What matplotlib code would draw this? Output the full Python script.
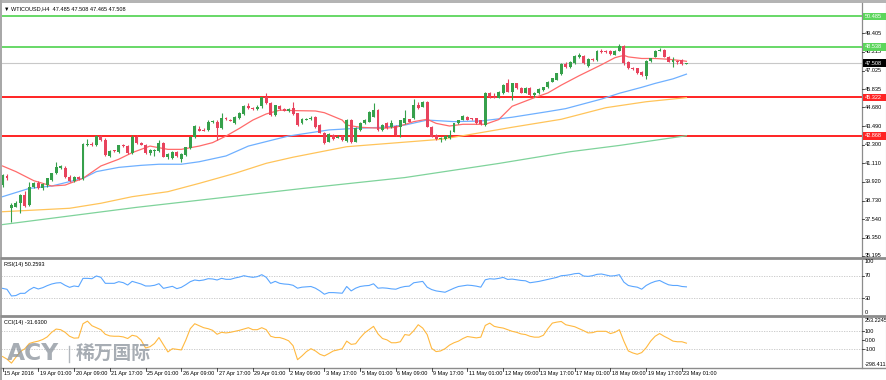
import matplotlib
matplotlib.use("Agg")
import matplotlib.pyplot as plt
from matplotlib.transforms import blended_transform_factory, offset_copy
from matplotlib.patches import Rectangle
import numpy as np

# ---------------- data ----------------
title = "WTICOUSD,H4  47.485 47.508 47.465 47.508"

opens = [39.70, 40.30, 38.24, 38.34, 38.60, 39.10, 38.45, 39.62, 39.87, 39.51,
         39.70, 40.05, 40.47, 40.85, 40.80, 40.26, 39.96, 40.24, 40.12, 42.30,
         42.36, 42.28, 42.85, 42.60, 41.55, 41.96, 41.80, 42.28, 42.22, 41.75,
         42.81, 42.43, 42.28, 41.79, 41.88, 41.90, 42.43, 41.49, 41.43, 41.85,
         41.37, 41.64, 42.07, 42.77, 43.28, 43.26, 43.24, 43.77, 43.77, 43.34,
         44.00, 43.90, 43.70, 43.98, 44.26, 44.77, 44.62, 44.56, 44.77, 45.32,
         44.94, 44.19, 44.77, 44.60, 44.47, 44.62, 44.30, 43.66, 43.90, 43.95,
         44.05, 43.55, 43.07, 42.49, 42.92, 42.75, 42.85, 42.56, 43.87, 42.49,
         43.24, 43.70, 43.77, 44.09, 44.51, 43.24, 43.70, 43.41, 43.49, 43.41,
         43.66, 43.92, 44.00, 44.83, 44.72, 45.04, 43.45, 42.92, 42.68, 42.64,
         42.70, 43.13, 43.66, 43.87, 44.05, 43.98, 43.98, 43.87, 43.55, 45.57,
         45.36, 45.30, 45.57, 46.21, 45.68, 46.21, 45.90, 45.62, 45.90, 45.50,
         45.57, 45.80, 45.96, 46.32, 46.43, 46.80, 47.45, 47.28, 47.50, 47.91,
         47.96, 47.30, 47.75, 47.70, 48.30, 48.25, 48.30, 48.05, 48.30, 48.60,
         47.60, 47.21, 47.17, 46.96, 46.70, 47.65, 47.91, 48.30, 48.34, 47.91,
         47.62, 47.66, 47.70, 47.485]
highs = [40.45, 40.40, 38.55, 38.70, 39.15, 39.35, 39.94, 39.90, 39.95, 39.85,
         40.20, 40.50, 41.21, 41.00, 40.95, 40.35, 40.30, 40.30, 42.40, 42.64,
         42.45, 42.90, 42.92, 42.70, 41.95, 41.98, 42.30, 42.35, 42.30, 42.90,
         42.92, 42.50, 42.35, 42.00, 42.05, 42.60, 42.45, 41.75, 41.90, 41.90,
         41.75, 42.15, 42.85, 43.55, 43.50, 43.35, 43.85, 43.88, 43.85, 44.34,
         44.05, 43.95, 44.10, 44.40, 44.80, 44.94, 44.70, 44.80, 45.35, 45.58,
         45.00, 44.85, 44.85, 44.65, 44.62, 45.04, 44.35, 43.98, 44.00, 44.10,
         44.12, 43.60, 43.12, 43.02, 42.98, 42.90, 42.90, 43.92, 43.95, 43.40,
         43.75, 43.92, 44.45, 44.94, 44.55, 43.60, 43.75, 43.87, 43.55, 43.90,
         44.51, 43.95, 45.19, 45.04, 45.08, 45.10, 43.50, 42.95, 42.80, 42.90,
         43.24, 43.70, 43.90, 44.19, 44.10, 44.02, 44.00, 43.90, 45.65, 45.68,
         45.57, 45.72, 46.15, 46.47, 46.25, 46.26, 45.95, 45.95, 45.95, 45.66,
         45.90, 46.00, 46.36, 46.58, 46.90, 47.52, 47.55, 47.65, 48.00, 48.13,
         48.05, 47.80, 47.80, 48.35, 48.38, 48.32, 48.36, 48.35, 48.72, 48.66,
         47.66, 47.26, 47.22, 47.00, 47.70, 47.86, 48.35, 48.45, 48.38, 47.95,
         47.91, 47.72, 47.75, 47.508]
lows = [39.60, 40.05, 37.39, 38.30, 37.96, 38.30, 38.40, 39.55, 39.45, 39.40,
        39.60, 40.00, 40.40, 40.75, 40.20, 39.90, 39.90, 40.05, 40.05, 42.21,
        42.20, 42.20, 42.55, 41.60, 41.50, 41.85, 41.75, 42.18, 41.70, 41.70,
        42.35, 42.25, 41.70, 41.65, 41.55, 41.85, 41.50, 41.40, 41.40, 41.50,
        41.21, 41.60, 42.00, 42.70, 43.15, 43.15, 43.15, 43.70, 42.60, 43.30,
        43.88, 43.78, 43.65, 43.95, 44.20, 44.55, 44.50, 44.50, 44.65, 44.90,
        44.15, 44.10, 44.50, 44.45, 44.40, 44.20, 43.50, 43.60, 43.85, 43.90,
        43.38, 43.02, 42.35, 42.45, 42.60, 42.70, 42.55, 42.50, 42.40, 42.45,
        43.20, 43.65, 43.72, 44.05, 43.20, 43.20, 43.30, 43.38, 42.88, 42.81,
        43.60, 43.72, 43.95, 44.58, 44.68, 43.40, 42.78, 42.60, 42.49, 42.60,
        42.65, 43.10, 43.60, 43.85, 43.85, 43.88, 43.65, 43.58, 43.49, 45.30,
        45.25, 45.25, 45.52, 45.64, 45.15, 45.85, 45.58, 45.58, 45.43, 45.36,
        45.52, 45.75, 45.92, 46.28, 46.40, 46.72, 47.20, 47.22, 47.45, 47.85,
        47.45, 47.23, 47.62, 47.65, 48.18, 48.15, 48.05, 48.00, 48.25, 47.38,
        47.12, 47.08, 46.80, 46.70, 46.47, 47.60, 47.88, 48.25, 47.88, 47.55,
        47.25, 47.45, 47.40, 47.465]
closes = [40.36, 40.15, 38.45, 38.56, 39.09, 38.40, 39.62, 39.87, 39.51, 39.79,
          40.15, 40.47, 40.89, 40.90, 40.26, 39.96, 40.24, 40.12, 42.34, 42.36,
          42.28, 42.85, 42.60, 41.64, 41.91, 41.90, 42.28, 42.22, 41.75, 42.77,
          42.43, 42.30, 41.75, 41.96, 41.94, 42.39, 41.53, 41.70, 41.85, 41.55,
          41.70, 42.13, 42.77, 43.49, 43.19, 43.20, 43.77, 43.82, 43.34, 43.98,
          43.93, 43.83, 44.04, 44.34, 44.77, 44.62, 44.56, 44.72, 45.32, 44.94,
          44.19, 44.82, 44.56, 44.47, 44.56, 44.26, 43.55, 43.92, 43.95, 44.02,
          43.41, 43.07, 42.43, 42.96, 42.64, 42.82, 42.60, 43.87, 42.49, 43.34,
          43.70, 43.87, 44.41, 44.51, 43.24, 43.55, 43.34, 43.66, 42.92, 43.87,
          43.98, 43.77, 44.83, 44.62, 45.04, 43.45, 42.81, 42.64, 42.72, 42.85,
          42.92, 43.66, 43.87, 44.13, 43.87, 43.92, 43.70, 43.62, 45.57, 45.36,
          45.30, 45.67, 46.10, 45.68, 46.21, 45.90, 45.62, 45.90, 45.47, 45.60,
          45.85, 45.96, 46.32, 46.54, 46.85, 47.45, 47.28, 47.60, 47.96, 48.02,
          47.49, 47.75, 47.68, 48.30, 48.23, 48.20, 48.10, 48.30, 48.60, 47.49,
          47.17, 47.13, 46.85, 46.75, 47.65, 47.81, 48.30, 48.34, 47.91, 47.60,
          47.66, 47.60, 47.45, 47.508]

# moving averages, sampled at bar positions
ma_red_bars = [0, 3, 7, 11, 14, 18, 22, 26, 29, 33, 37, 40, 44, 47, 50, 53, 56, 59, 62,
               66, 70, 72, 76, 77, 80, 85, 88, 92, 95, 97, 100, 103, 105, 108, 111,
               114, 119, 122, 125, 129, 134, 137, 139, 140, 143, 146, 149, 152, 153]
ma_red_vals = [40.94, 40.58, 40.00, 39.66, 39.72, 40.15, 40.94, 41.37, 41.79, 42.21,
               42.00, 42.00, 42.21, 42.43, 42.85, 43.34, 43.87, 44.26, 44.50, 44.47,
               44.45, 44.34, 43.87, 43.55, 43.41, 43.34, 43.41, 43.77, 43.92, 43.66,
               43.49, 43.60, 43.60, 43.60, 43.90, 44.75, 45.30, 45.60, 46.10, 46.70,
               47.40, 47.85, 48.00, 47.90, 47.80, 47.80, 47.75, 47.66, 47.62]
ma_blue_bars = [0, 6, 11, 18, 21, 26, 31, 35, 40, 44, 50, 55, 61, 64, 73, 79, 85, 90,
                95, 101, 107, 114, 122, 126, 134, 138, 143, 146, 150, 153]
ma_blue_vals = [38.98, 39.51, 39.66, 40.15, 40.58, 40.85, 40.98, 41.05, 41.05, 41.21,
                41.58, 42.21, 42.64, 42.85, 43.24, 43.34, 43.41, 43.55, 43.87, 43.77,
                43.81, 44.05, 44.41, 44.60, 45.21, 45.58, 45.96, 46.21, 46.50, 46.80]
ma_orange_bars = [0, 15, 22, 29, 37, 44, 52, 59, 65, 77, 98, 104, 114, 125, 135, 144, 153]
ma_orange_vals = [38.02, 38.24, 38.56, 38.98, 39.30, 39.83, 40.47, 41.11, 41.50, 42.17,
                  42.64, 42.92, 43.41, 43.92, 44.66, 45.04, 45.30]
ma_green_bars = [0, 30, 67, 90, 111, 127, 138, 153]
ma_green_vals = [37.20, 38.30, 39.50, 40.20, 41.10, 41.85, 42.25, 42.87]

rsi = [47.6, 45.9, 34.1, 34.9, 38.8, 38.8, 45.0, 49.4, 46.5, 48.8,
       52.4, 55.3, 57.1, 57.7, 53.0, 49.4, 51.8, 50.6, 65.3, 65.3,
       64.7, 69.5, 67.1, 56.5, 56.5, 56.5, 59.4, 57.7, 53.5, 60.0,
       57.7, 55.3, 51.8, 51.8, 53.0, 55.9, 47.6, 49.4, 51.2, 47.1,
       49.4, 54.1, 59.4, 62.4, 61.2, 62.4, 64.7, 64.2, 62.4, 65.3,
       63.6, 63.6, 65.9, 67.6, 70.0, 68.3, 67.1, 68.3, 71.8, 67.1,
       56.5, 60.0, 56.5, 55.3, 54.7, 53.0, 47.9, 49.7, 50.3, 50.9,
       47.9, 43.1, 37.2, 40.1, 40.1, 39.5, 39.0, 50.9, 43.1, 47.9,
       50.9, 52.1, 52.7, 55.7, 47.9, 48.5, 47.9, 46.7, 46.1, 49.1,
       50.9, 51.5, 57.5, 58.7, 59.9, 49.7, 45.5, 43.1, 41.9, 40.7,
       44.3, 47.9, 50.9, 52.1, 53.3, 52.7, 51.5, 49.7, 62.8, 64.6,
       64.0, 65.2, 67.0, 63.4, 64.0, 62.8, 61.6, 61.0, 57.5, 58.7,
       59.9, 61.6, 63.4, 65.2, 67.0, 70.0, 70.6, 71.8, 73.6, 74.2,
       69.4, 68.8, 70.0, 72.4, 73.0, 71.2, 69.4, 70.0, 71.8, 58.7,
       52.7, 50.9, 49.7, 46.1, 52.7, 56.9, 59.9, 61.6, 57.5, 53.9,
       52.7, 52.7, 50.9, 50.26]
cci = [-180, -209, -253, -187, -125, -93, -35, -20, -9, 9,
       38, 89, 125, 118, 89, 45, 24, 27, 184, 213,
       162, 140, 118, 67, 49, 45, 45, 38, 20, 56,
       45, 2, -85, -71, -35, 31, -49, -129, -93, -100,
       -107, 2, 129, 184, 162, 140, 129, 111, 67, 89,
       82, 89, 100, 111, 125, 140, 118, 118, 140, 118,
       45, 31, 31, 16, -5, -60, -215, -173, -125, -93,
       -118, -155, -173, -147, -118, -107, -93, -9, -45, -38,
       27, 82, 118, 155, 71, 20, 5, -27, -27, -16,
       64, 56, 107, 173, 136, 64, -89, -125, -118, -93,
       -53, -27, -9, 20, 42, 35, 27, 35, 165, 191,
       155, 144, 136, 118, 100, 89, 71, 64, 45, 35,
       35, 56, 129, 191, 202, 209, 173, 162, 151, 129,
       107, 82, 85, 100, 100, 100, 75, 89, 118, -9,
       -118, -140, -155, -136, -82, -9, 45, 75, 45, 20,
       -9, -16, -16, -31.63]

levels_green = [50.485, 48.538]
levels_red = [45.322, 42.868]
last_price = 47.508

price_ticks = [49.405, 48.215, 47.025, 45.835, 44.680, 43.490, 42.300,
               41.110, 39.920, 38.730, 37.540, 36.350, 35.195]
price_tick_labels = ["49.405", "48.215", "47.025", "45.835", "44.680", "43.490", "42.300",
                     "41.110", "39.920", "38.730", "37.540", "36.350", "35.195"]

time_tick_bars = [0, 8, 16, 24, 32, 40, 48, 56, 64, 72, 80, 88, 96, 104, 112, 120,
                  128, 136, 144, 152]
time_tick_labels = ["15 Apr 2016", "19 Apr 01:00", "20 Apr 09:00", "21 Apr 17:00",
                    "25 Apr 01:00", "26 Apr 09:00", "27 Apr 17:00", "29 Apr 01:00",
                    "2 May 09:00", "3 May 17:00", "5 May 01:00", "6 May 09:00",
                    "9 May 17:00", "11 May 01:00", "12 May 09:00", "13 May 17:00",
                    "17 May 01:00", "18 May 09:00", "19 May 17:00", "23 May 01:00"]

rsi_label = "RSI(14) 50.2593"
cci_label = "CCI(14) -31.6300"
rsi_levels = [70, 30]
cci_levels = [100, -100]
cci_range = (-298.411, 253.2245)

# ---------------- styling ----------------
W, H = 887, 380
FONT = ["Liberation Sans", "DejaVu Sans"]
FS = 4.0
BULL, BEAR = "#36a04b", "#e8435d"
C_RED_MA, C_BLUE_MA, C_OR_MA, C_GR_MA = "#ff6b6b", "#6fb0ff", "#ffc45a", "#7fd39b"
C_LVL_G, C_LVL_R = "#5cd65c", "#ff2424"
SEP = "#8c8c8c"

fig = plt.figure(figsize=(W / 100, H / 100), dpi=100)
fig.patch.set_facecolor("white")


def rect(x0, y0, x1, y1):
    return [x0 / W, 1 - y1 / H, (x1 - x0) / W, (y1 - y0) / H]


PL, PR = 1, 862
XMIN, XMAX = -0.34, 192.28

ax = fig.add_axes(rect(PL, 5, PR, 258))
ax_rsi = fig.add_axes(rect(PL, 258.75, PR, 315.25))
ax_cci = fig.add_axes(rect(PL, 317.5, PR, 367.2))
for a in (ax, ax_rsi, ax_cci):
    a.set_xlim(XMIN, XMAX)
    a.set_xticks([])
    a.set_yticks([])
    for s in a.spines.values():
        s.set_visible(False)
    a.patch.set_alpha(0)
ax.set_ylim(35.067, 51.213)
ax_rsi.set_ylim(0, 100)
ax_cci.set_ylim(*cci_range)

# ---- levels ----
for lv in levels_green:
    ax.axhline(lv, color=C_LVL_G, lw=1.3, zorder=1)
for lv in levels_red:
    ax.axhline(lv, color=C_LVL_R, lw=1.4, zorder=1)
ax.axhline(last_price, color="#c8c8c8", lw=0.8, zorder=1)

# ---- moving averages ----
ax.plot(ma_green_bars, ma_green_vals, color=C_GR_MA, lw=0.9, zorder=2)
ax.plot(ma_orange_bars, ma_orange_vals, color=C_OR_MA, lw=0.9, zorder=2)
ax.plot(ma_blue_bars, ma_blue_vals, color=C_BLUE_MA, lw=0.9, zorder=2)
ax.plot(ma_red_bars, ma_red_vals, color=C_RED_MA, lw=0.9, zorder=2)

# ---- candles ----
o = np.array(opens)
h = np.array(highs)
l = np.array(lows)
c = np.array(closes)
idx = np.arange(len(c))
cols = np.where(c >= o, BULL, BEAR)
ax.vlines(idx, l, h, colors=cols, lw=0.8, zorder=3)
body = np.abs(c - o)
bh = np.maximum(body, 0.07)
bottom = np.minimum(o, c) - (bh - body) / 2
ax.bar(idx, bh, bottom=bottom, width=0.66, color=cols, linewidth=0, zorder=4)

# ---- RSI ----
for lv in rsi_levels:
    ax_rsi.axhline(lv, color="#c4c4c4", lw=0.6, ls=(0, (1.5, 1.5)))
ax_rsi.plot(np.arange(len(rsi)), rsi, color="#5aa6ff", lw=0.8)

# ---- CCI ----
for lv in cci_levels:
    ax_cci.axhline(lv, color="#c4c4c4", lw=0.6, ls=(0, (1.5, 1.5)))
ax_cci.plot(np.arange(len(cci)), cci, color="#ffb940", lw=0.8)

# ---------------- overlay (frame, labels) ----------------
ov = fig.add_axes([0, 0, 1, 1], zorder=10)
ov.set_xlim(0, W)
ov.set_ylim(H, 0)
ov.axis("off")
ov.patch.set_alpha(0)

# window frame
ov.add_patch(Rectangle((0, 0), W, 2.5, color="#b4b4b4", lw=0))
ov.add_patch(Rectangle((0, 0), 1.6, H, color="#a8a8a8", lw=0))
ov.plot([PR, PR], [2.5, 367.5], color=SEP, lw=0.9)
ov.plot([886.5, 886.5], [2.5, 367.5], color="#b0b0b0", lw=0.8)
for yy, lw in ((258.2, 2.0), (316.3, 2.0), (367.6, 1.0)):
    ov.plot([0, 887], [yy, yy], color=SEP, lw=lw, solid_capstyle="butt")

txt = dict(fontsize=FS, family=FONT, color="#000000")
ov.text(4, 8.5, "\u25bc " + title, va="center", ha="left", **txt)
ov.text(4, 264.5, rsi_label, va="center", ha="left", **txt)
ov.text(4, 322.5, cci_label, va="center", ha="left", **txt)

# price axis labels
trp = blended_transform_factory(ov.transData, ax.transData)
for v, s in zip(price_ticks, price_tick_labels):
    ov.plot([PR, PR + 2.5], [v, v], color="#333333", lw=0.6, transform=trp)
    ov.text(865, v, s, va="center", ha="left", transform=trp, **txt)

box_h = 7.5 / 15.67
for lv in levels_green + levels_red + [last_price]:
    col = C_LVL_G if lv in levels_green else (C_LVL_R if lv in levels_red else "#000000")
    ov.add_patch(Rectangle((PR + 0.6, lv - box_h / 2), 24.4, box_h, color=col, lw=0,
                           transform=trp, zorder=5))
    ov.text(865, lv, f"{lv:.3f}", va="center", ha="left", transform=trp, zorder=6,
            fontsize=FS, family=FONT, color="white")

# RSI axis labels
trr = blended_transform_factory(ov.transData, ax_rsi.transData)
for v, s, va in ((100, "100", "top"), (70, "70", "center"), (30, "30", "center"),
                 (0, "0", "bottom")):
    ov.text(865, v, s, va=va, ha="left", transform=trr, **txt)
for v in (70, 30):
    ov.plot([PR, PR + 2.5], [v, v], color="#333333", lw=0.6, transform=trr)

# CCI axis labels
trc = blended_transform_factory(ov.transData, ax_cci.transData)
for v, s, va in ((cci_range[1], "253.2245", "top"), (100, "100", "center"),
                 (0, "0.00", "center"), (-100, "-100", "center"),
                 (cci_range[0], "-298.411", "bottom")):
    ov.text(865, v, s, va=va, ha="left", transform=trc, **txt)
for v in (100, 0, -100):
    ov.plot([PR, PR + 2.5], [v, v], color="#333333", lw=0.6, transform=trc)

# time axis
trt = blended_transform_factory(ax_cci.transData, ov.transData)
trt_txt = offset_copy(trt, fig=fig, x=1.5, y=0, units="dots")
for b, s in zip(time_tick_bars, time_tick_labels):
    ov.plot([b, b], [367.6, 371], color="#333333", lw=0.6, transform=trt)
    ov.text(b, 373, s, va="center", ha="left", transform=trt_txt, **txt)

# watermark
ov.text(7, 354, "ACY", fontsize=16.8, family="DejaVu Sans", fontweight="bold",
        color="#8a929b", alpha=0.75, va="center", ha="left")
ov.plot([69.5, 69.5], [346, 362], color="#9aa1a8", lw=1.0, alpha=0.75)
ov.text(76, 354, "稀万国际", fontsize=13.5, family=["Noto Sans CJK SC", "DejaVu Sans"],
        fontweight="bold", color="#8a929b", alpha=0.75, va="center", ha="left")

fig.savefig("out.png", dpi=100, facecolor="white")
